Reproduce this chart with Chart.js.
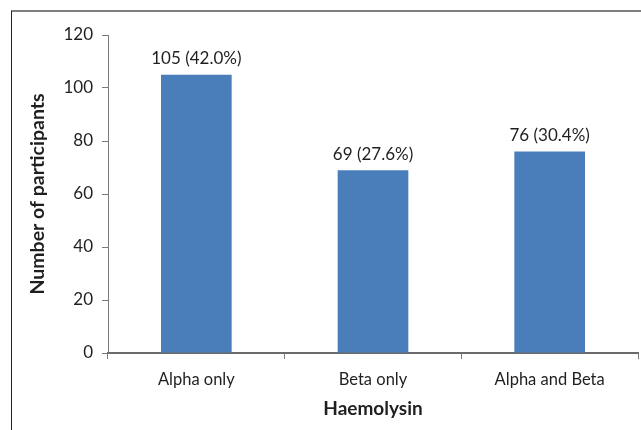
<!DOCTYPE html>
<html>
<head>
<meta charset="utf-8">
<script src="https://cdn.jsdelivr.net/npm/chart.js@4/dist/chart.umd.min.js"></script>
<style>
  html, body { margin: 0; padding: 0; background: #ffffff; }
  #wrap { width: 641px; height: 430px; position: relative; }
</style>
</head>
<body>
<div id="wrap"><canvas id="c" width="641" height="430"></canvas></div>
<script>
// Haemolysin type among participants
const categories = ['Alpha only', 'Beta only', 'Alpha and Beta'];
const participants = [105, 69, 76];
const yTicks = [0, 20, 40, 60, 80, 100, 120];

const total = participants.reduce((a, b) => a + b, 0);
const FONT = 'Lato, "Open Sans", "Liberation Sans", sans-serif';
const AXIS = '#7a7a7a';
const TEXT = '#1f1f1f';

// Thin frame along the top and left edges of the figure
const framePlugin = {
  id: 'frame',
  beforeDraw(chart) {
    const ctx = chart.ctx;
    ctx.save();
    ctx.strokeStyle = '#7f7f7f';
    ctx.lineWidth = 2;
    ctx.beginPath();
    ctx.moveTo(11, 11);
    ctx.lineTo(641, 11);
    ctx.stroke();
    ctx.strokeStyle = '#222222';
    ctx.lineWidth = 1;
    ctx.beginPath();
    ctx.moveTo(11.5, 11);
    ctx.lineTo(11.5, 430);
    ctx.stroke();
    ctx.restore();
  }
};

// Count and share written above each bar
const valueLabels = {
  id: 'valueLabels',
  afterDatasetsDraw(chart) {
    const ctx = chart.ctx;
    const meta = chart.getDatasetMeta(0);
    ctx.save();
    ctx.font = '17px ' + FONT;
    ctx.fillStyle = TEXT;
    ctx.textAlign = 'center';
    ctx.textBaseline = 'middle';
    meta.data.forEach((bar, i) => {
      const v = participants[i];
      const pct = (v / total * 100).toFixed(1);
      ctx.fillText(v + ' (' + pct + '%)', bar.x, bar.y - 16);
    });
    ctx.restore();
  }
};

new Chart(document.getElementById('c'), {
  type: 'bar',
  data: {
    labels: categories,
    datasets: [{
      data: participants,
      backgroundColor: '#4a7ebb',
      borderWidth: 0,
      categoryPercentage: 0.40,
      barPercentage: 1.0
    }]
  },
  options: {
    responsive: false,
    animation: false,
    devicePixelRatio: 1,
    layout: { padding: { left: 0, right: 3, top: 35, bottom: 0 } },
    plugins: {
      legend: { display: false },
      tooltip: { enabled: false }
    },
    scales: {
      x: {
        grid: {
          display: true,
          drawOnChartArea: false,
          drawTicks: true,
          tickLength: 6,
          color: AXIS,
          offset: true
        },
        border: { display: true, color: '#6a6a6a', width: 2 },
        ticks: {
          color: TEXT,
          font: { family: FONT, size: 16.5 },
          padding: 11,
          maxRotation: 0
        },
        title: {
          display: true,
          text: 'Haemolysin',
          color: TEXT,
          font: { family: FONT, size: 19, weight: 'bold' },
          padding: { top: 0, bottom: 10 }
        },
        afterFit(axis) { axis.height = 77; }
      },
      y: {
        min: 0,
        max: 120,
        afterBuildTicks(axis) { axis.ticks = yTicks.map(v => ({ value: v })); },
        grid: {
          display: true,
          drawOnChartArea: false,
          drawTicks: true,
          tickLength: 6,
          color: AXIS
        },
        border: { display: true, color: AXIS, width: 1 },
        ticks: {
          color: TEXT,
          font: { family: FONT, size: 17 },
          padding: 9
        },
        title: {
          display: true,
          text: 'Number of participants',
          color: TEXT,
          font: { family: FONT, size: 19.5, weight: 'bold' },
          padding: { top: 26, bottom: 0 }
        },
        afterFit(axis) { axis.width = 108; }
      }
    }
  },
  plugins: [framePlugin, valueLabels]
});
</script>
</body>
</html>
